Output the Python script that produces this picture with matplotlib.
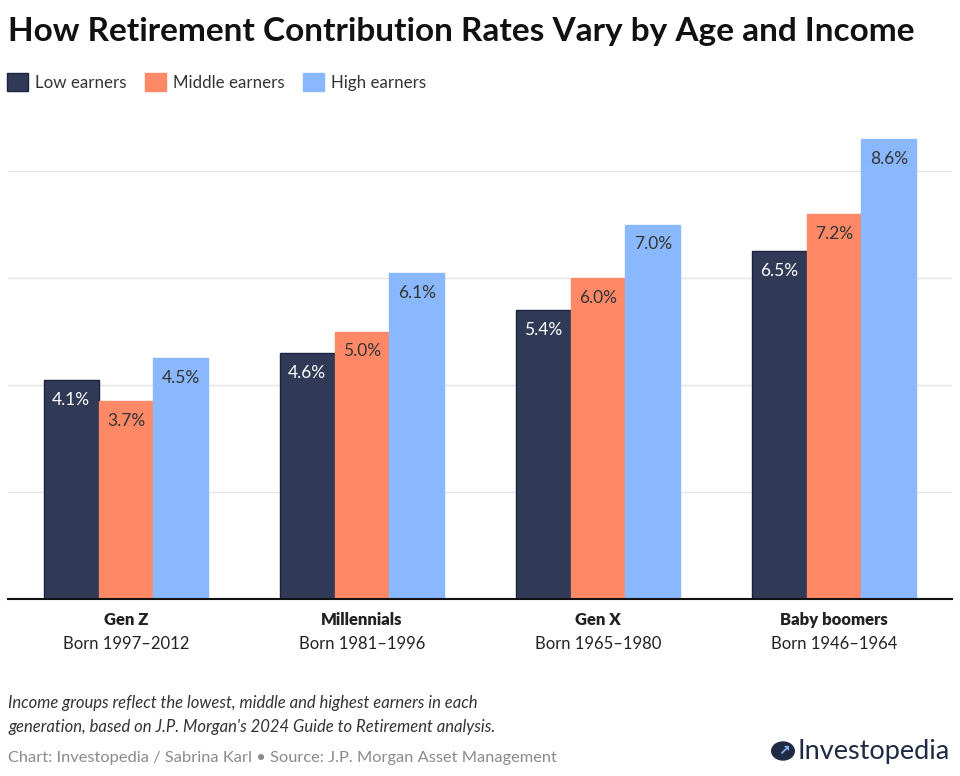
import numpy as np
import matplotlib.pyplot as plt
from matplotlib.patches import Patch, Circle

# ======= Dados =======
generations = ['Gen Z', 'Millennials', 'Gen X', 'Baby boomers']
born = ['Born 1997–2012', 'Born 1981–1996', 'Born 1965–1980', 'Born 1946–1964']
series_names = ['Low earners', 'Middle earners', 'High earners']
low = [4.1, 4.6, 5.4, 6.5]
middle = [3.7, 5.0, 6.0, 7.2]
high = [4.5, 6.1, 7.0, 8.6]

colors = ['#303a57', '#ff8966', '#8ab8ff']
edges = ['#1b2340', '#ff8966', '#8ab8ff']
label_colors = ['white', '#333333', '#333333']

plt.rcParams['font.family'] = ['Lato', 'DejaVu Sans']

fig = plt.figure(figsize=(9.6, 7.76), dpi=100, facecolor='white')
ax = fig.add_axes([8 / 960, 1 - 599 / 776, 944 / 960, (599 - 107) / 776])

x = np.arange(len(generations))
w = 0.233
for i, vals in enumerate([low, middle, high]):
    pos = x + (i - 1) * w
    ax.bar(pos, vals, width=w, color=colors[i], edgecolor=edges[i], linewidth=1, zorder=3)
    for px, v in zip(pos, vals):
        ax.text(px, v - 0.37, f'{v:.1f}%', ha='center', va='center',
                fontsize=12.5, color=label_colors[i], zorder=4)

ax.set_xlim(-0.5, 3.5)
ax.set_ylim(0, 9.2)
ax.set_yticks([2, 4, 6, 8])
ax.yaxis.grid(True, color='#e4e4e4', linewidth=1)
ax.set_axisbelow(True)
ax.set_yticklabels([])
ax.set_xticks([])
ax.tick_params(left=False, bottom=False)
for s in ['top', 'right', 'left']:
    ax.spines[s].set_visible(False)
ax.spines['bottom'].set_color('#111111')
ax.spines['bottom'].set_linewidth(1.5)
ax.spines['bottom'].set_zorder(5)

# rotulos das categorias
for i in range(len(generations)):
    ax.text(x[i], -0.39, generations[i], ha='center', va='center', fontsize=12,
            fontweight='heavy', color='#222222', transform=ax.transData)
    ax.text(x[i], -0.84, born[i], ha='center', va='center', fontsize=12,
            color='#222222', transform=ax.transData)

# titulo
fig.text(8 / 960, 1 - 32 / 776, 'How Retirement Contribution Rates Vary by Age and Income',
         ha='left', va='center', fontsize=24, fontweight='bold', color='#111111')

# legenda
handles = [Patch(facecolor=colors[i], edgecolor=edges[i]) for i in range(3)]
fig.legend(handles, series_names, loc='center left', bbox_to_anchor=(0.0, 1 - 82 / 776),
           ncol=3, frameon=False, fontsize=12.2, handlelength=1.25, handleheight=1.25,
           handletextpad=0.4, columnspacing=1.1, borderaxespad=0, labelcolor='#333333')

# notas
fig.text(8 / 960, 1 - 703 / 776,
         'Income groups reflect the lowest, middle and highest earners in each',
         ha='left', va='center', fontsize=12, style='italic', color='#333333')
fig.text(8 / 960, 1 - 727 / 776,
         "generation, based on J.P. Morgan's 2024 Guide to Retirement analysis.",
         ha='left', va='center', fontsize=12, style='italic', color='#333333')
fig.text(8 / 960, 1 - 758 / 776,
         'Chart: Investopedia / Sabrina Karl • Source: J.P. Morgan Asset Management',
         ha='left', va='center', fontsize=11.8, color='#8a8a8a')

# logo
fig.patches.append(Circle((783 / 960, 1 - 751 / 776), 12 / 960, transform=fig.transFigure,
                          facecolor='#1f2a44', edgecolor='none'))
fig.text(784 / 960, 1 - 751 / 776, '↗', ha='center', va='center', fontsize=10,
         color='#8ab8ff', family=['DejaVu Sans'], fontweight='bold')
fig.text(798 / 960, 1 - 751 / 776, 'Investopedia', ha='left', va='center',
         fontsize=19.5, color='#1f2a44')

fig.savefig('out.png', dpi=100, facecolor='white')
